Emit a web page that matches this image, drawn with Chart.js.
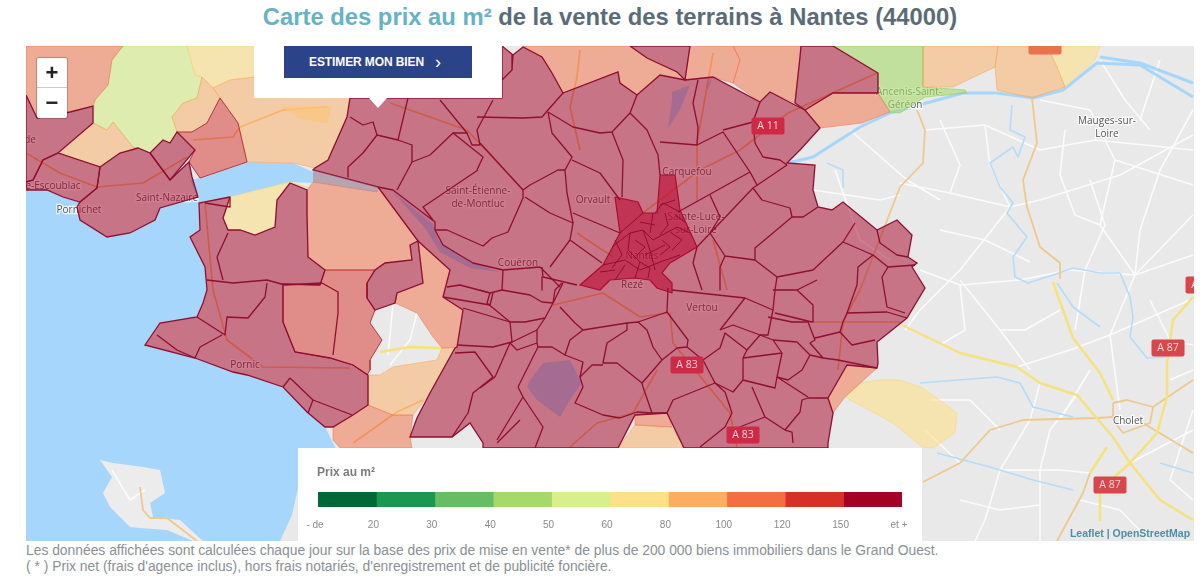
<!DOCTYPE html>
<html lang="fr">
<head>
<meta charset="utf-8">
<title>Carte des prix au m²</title>
<script src="https://cdn.jsdelivr.net/npm/chart.js@4"></script>
<style>
html,body{margin:0;padding:0;background:#fff;width:1200px;height:586px;overflow:hidden;font-family:"Liberation Sans",Arial,sans-serif}
#title{position:absolute;left:0;width:1220px;top:3px;text-align:center;font-size:23.8px;font-weight:bold;color:#5b6b78;white-space:nowrap}
#title span{color:#67b2c4}
#mapBox{position:absolute;left:26px;top:46px;width:1168px;height:495px}
#legendBox{position:absolute;left:298px;top:448px;width:624px;height:93px;background:#fff}
#legendTitle{position:absolute;left:19px;top:17px;font-size:12px;font-weight:bold;color:#7c7c7c}
#popup{position:absolute;left:254px;top:46px;width:248px;height:52px;background:#fff}
#popup:after{content:"";position:absolute;left:115px;top:52px;border-left:9px solid transparent;border-right:9px solid transparent;border-top:10px solid #fff}
#btn{position:absolute;left:30px;top:0;width:188px;height:32px;background:#2b4389;color:#fff;font-size:12px;font-weight:bold;line-height:32px;text-align:center;letter-spacing:-.1px;padding-right:6px;box-sizing:border-box}
#btn b{margin-left:11px;font-size:18px;font-weight:normal;vertical-align:top}
#zoom{position:absolute;left:37px;top:58px;width:30px;height:60px;background:#fff;border-radius:2px;box-shadow:0 0 0 1px rgba(0,0,0,.2);color:#222;font-size:22px;font-weight:bold;text-align:center}
#zoom div{height:29px;line-height:29px}
#zoom div+div{border-top:1px solid #ccc}
#attr{position:absolute;left:1068px;top:527px;width:124px;font-size:10.5px;font-weight:bold;color:#4c8fa6;text-align:center}
#notes{position:absolute;left:26px;top:542px;font-size:13.85px;line-height:16px;color:#8a8f94;white-space:nowrap}
</style>
</head>
<body>
<div id="title"><span>Carte des prix au m²</span> de la vente des terrains à Nantes (44000)</div>
<div id="mapBox"><canvas id="mapChart"></canvas></div>
<div id="popup"><div id="btn">ESTIMER MON BIEN<b>›</b></div></div>
<div id="zoom"><div>+</div><div>−</div></div>
<div id="attr">Leaflet | OpenStreetMap</div>
<div id="legendBox"><div id="legendTitle">Prix au m²</div><canvas id="legendChart"></canvas></div>
<div id="notes">Les données affichées sont calculées chaque jour sur la base des prix de mise en vente* de plus de 200 000 biens immobiliers dans le Grand Ouest.<br>( * ) Prix net (frais d'agence inclus), hors frais notariés, d'enregistrement et de publicité foncière.</div>

<script>
// legend
const legendTicks=['- de','20','30','40','50','60','80','100','120','150','et +'];
const legendColors=['#006837','#1a9850','#66bd63','#a6d96a','#d9ef8b','#fee08b','#fdae61','#f46d43','#d73027','#a50026'];

// map units
const seaShape=[[26,190],[47,190],[63,197],[80,202],[77,207],[80,220],[107,237],[130,233],[155,220],[160,208],[198,197],[190,180],[200,178],[247,162],[293,163],[313,172],[313,183],[290,182],[230,197],[199,203],[200,230],[190,237],[205,267],[207,290],[203,303],[197,317],[160,323],[145,345],[195,358],[233,372],[247,375],[283,387],[307,412],[325,427],[333,443],[337,450],[330,470],[298,488],[292,515],[280,541],[26,541]];
const islandShape=[[100,460],[113,463],[143,467],[160,470],[165,493],[150,503],[153,517],[180,520],[203,541],[193,541],[167,530],[140,528],[130,527],[110,507],[103,493],[112,477],[100,460]];
const lakeShape=[[530,380],[543,363],[570,360],[582,383],[570,400],[560,417],[537,400],[527,387]];
const lakesNorth=[[[672,92],[690,85],[680,110],[668,128],[672,100]],[[706,85],[712,78],[708,90]]];
const loireWest=[[393,192],[433,224],[438,240],[470,262],[500,272],[470,268],[440,252],[425,228]];

const riverLines=[
  [[1012,105],[1010,130],[1025,137],[1018,157],[1013,147],[990,163],[1000,187],[1013,203],[1007,213],[1027,237],[1013,257],[1015,277],[1028,283],[1053,275],[1073,268],[1100,273],[1120,273],[1130,297],[1133,317],[1130,337],[1147,358],[1167,357]],
  [[920,383],[997,377],[1020,383],[1033,407],[1073,417]],
  [[937,453],[990,467],[1033,480],[1073,490]],
  [[1057,283],[1073,307],[1100,327]],
  [[1160,463],[1193,473]],
  [[827,163],[843,170],[843,187]]
];
const loireLines=[
  [[788,163],[813,157],[860,127],[890,113],[963,93],[997,93],[1033,98],[1063,90],[1097,63],[1140,65],[1193,97]],
  [[1100,57],[1140,63],[1193,83]]
];
const whiteRoads=[
  [[925,130],[985,125],[1040,150],[1095,140],[1193,150]],
  [[900,183],[950,193],[1010,207],[1040,200],[1120,175],[1193,135]],
  [[1010,207],[960,270],[920,310],[905,330]],
  [[960,285],[1020,280],[1070,270],[1135,275],[1193,255]],
  [[1135,275],[1140,230],[1160,170],[1193,110]],
  [[1100,225],[1135,275],[1110,335],[1120,410]],
  [[960,280],[1000,330],[1030,370]],
  [[1017,367],[1070,350],[1110,335],[1190,300]],
  [[1090,180],[1105,225],[1085,270],[1075,330]],
  [[1040,100],[1090,110],[1115,160],[1100,225]],
  [[1040,383],[1030,420],[1000,470],[985,520],[975,541]],
  [[1077,395],[1050,430],[1040,470],[1040,541]],
  [[1130,463],[1193,430]],
  [[1170,380],[1193,370]],
  [[1000,470],[1060,470],[1090,473]],
  [[960,463],[925,430]],
  [[1060,420],[1090,370]],
  [[1100,60],[1125,100],[1150,130]],
  [[1160,60],[1140,120]],
  [[850,130],[907,180],[940,200]],
  [[813,190],[880,200],[900,195]],
  [[393,305],[388,355]],
  [[417,313],[410,340],[390,365]],
  [[112,470],[130,500],[145,490]],
  [[940,120],[960,165],[950,193]],
  [[985,125],[990,165],[1010,207]],
  [[1065,130],[1060,175],[1075,215],[1100,225]],
  [[1115,160],[1193,185]],
  [[1135,275],[1193,215]],
  [[940,230],[985,240],[1030,262]],
  [[920,270],[960,285],[965,330],[940,345]],
  [[1060,310],[1025,330],[1000,330]],
  [[1150,300],[1170,340],[1193,345]],
  [[930,400],[970,400],[1000,430]],
  [[1080,500],[1120,510],[1150,541]],
  [[1193,410],[1170,480],[1193,500]],
  [[835,170],[860,240],[890,260]],
  [[960,500],[1000,510],[1040,505]]
];
const yellowRoads=[
  [[902,325],[960,353],[1017,367],[1040,383],[1077,395],[1113,437],[1130,463],[1160,500],[1193,520]],
  [[1053,282],[1073,338],[1100,373],[1113,400]],
  [[1193,297],[1173,320],[1167,363],[1167,397],[1157,433],[1130,463],[1100,490],[1100,520]],
  [[1107,447],[1090,473]],
  [[380,352],[410,347],[442,348]]
];
const tanRoads=[
  [[1032,98],[1037,143],[1023,180],[1027,207],[1040,247],[1060,263],[1060,278]],
  [[917,110],[925,130],[923,163],[900,187],[860,290]],
  [[923,482],[960,463],[990,430],[1023,420],[1097,418],[1113,417]],
  [[1057,541],[1083,493],[1090,473]],
  [[1113,403],[1127,400],[1153,407],[1150,423],[1123,433],[1113,420],[1113,403]],
  [[1153,407],[1193,380]],
  [[1143,423],[1193,453]],
  [[140,487],[143,510],[150,518],[167,518],[197,541]]
];
const orangeRoads=[
  [[390,103],[467,130],[523,190]],
  [[240,127],[283,110],[327,107]],
  [[193,140],[233,137],[240,127]],
  [[26,153],[60,173],[97,187],[143,183],[187,157]],
  [[205,203],[213,290],[227,340],[263,367],[350,368]],
  [[353,443],[397,412],[423,400]],
  [[580,50],[577,77],[570,107],[580,150]],
  [[713,53],[697,143],[697,200]],
  [[788,113],[877,73]],
  [[713,240],[727,290]],
  [[577,233],[613,257]],
  [[813,322],[900,322]],
  [[843,322],[838,370]],
  [[860,290],[843,322]],
  [[670,313],[673,343],[730,413],[737,447]],
  [[570,447],[597,423],[633,413],[657,370]],
  [[553,305],[603,293],[640,317],[667,313]],
  [[640,215],[700,170],[740,150],[788,113]]
];

const zones150=[
  [[378,187],[313,170],[315,168],[328,160],[347,117],[350,98],[502,98],[502,46],[513,55],[523,47],[542,57],[552,73],[563,93],[618,72],[620,83],[637,95],[660,75],[685,80],[713,77],[760,102],[770,92],[795,105],[805,110],[820,128],[800,150],[787,163],[815,165],[813,190],[818,207],[832,210],[843,202],[877,230],[897,220],[912,235],[908,257],[917,263],[912,267],[925,288],[907,318],[877,342],[878,363],[877,368],[847,365],[828,398],[833,413],[828,443],[828,448],[684,448],[667,413],[635,415],[618,448],[483,448],[483,443],[470,423],[452,437],[410,437],[417,418],[430,393],[455,348],[457,347],[463,310],[443,297],[450,270],[418,241]],
  [[630,46],[647,58],[677,72],[685,80],[690,46]],
  [[801,46],[800,57],[795,103],[805,110],[833,93],[878,93],[878,73],[833,46]],
  [[26,95],[37,118],[70,112],[93,106],[93,123],[58,153],[43,160],[33,180],[26,182]],
  [[26,182],[33,180],[43,160],[58,153],[100,167],[97,188],[80,202],[63,197],[47,190],[26,190]],
  [[100,167],[120,153],[138,148],[150,153],[170,180],[189,162],[192,177],[198,197],[160,208],[155,220],[130,233],[107,237],[80,220],[77,207],[80,202],[97,188]],
  [[150,153],[163,140],[170,143],[177,132],[195,150],[170,180]],
  [[230,197],[223,218],[228,230],[240,230],[255,235],[275,227],[277,200],[290,183],[307,190],[307,213],[308,257],[325,270],[320,285],[283,284],[283,322],[295,352],[330,358],[353,365],[368,375],[368,405],[353,415],[333,427],[325,427],[307,412],[283,387],[247,375],[233,372],[195,358],[145,345],[160,323],[197,317],[203,303],[207,290],[205,267],[190,237],[200,230],[199,203]],
  [[367,283],[367,298],[375,310],[395,303],[397,293],[423,283],[418,241],[410,245],[412,260],[385,263],[375,270]]
];
const zones120=[
  [[220,98],[238,123],[247,162],[200,178],[189,162],[195,150],[177,132],[192,132],[207,123]],
  [[283,284],[320,285],[325,270],[375,270],[367,283],[367,298],[375,310],[370,323],[382,340],[370,360],[370,370],[367,375],[353,365],[330,358],[295,352],[283,322]]
];
const zones100=[
  [[26,46],[123,46],[112,60],[108,85],[95,100],[93,106],[70,112],[37,118],[26,95]],
  [[523,46],[630,46],[647,58],[677,72],[685,80],[660,75],[637,95],[620,83],[618,72],[563,93],[552,73],[542,57]],
  [[690,46],[733,46],[740,60],[733,83],[713,77],[685,80]],
  [[733,46],[801,46],[800,57],[795,103],[770,92],[760,102],[733,83],[740,60]],
  [[805,110],[833,93],[878,93],[890,112],[862,123],[820,128]],
  [[313,182],[377,192],[378,187],[418,241],[410,245],[412,260],[385,263],[375,270],[325,270],[308,257],[307,213],[307,190]],
  [[418,241],[450,270],[443,297],[463,310],[457,347],[442,348],[433,337],[417,313],[395,303],[397,293],[423,283]],
  [[333,427],[353,415],[368,405],[393,415],[413,415],[410,437],[412,448],[340,448],[333,440]],
  [[635,415],[667,413],[672,427],[635,425]],
  [[847,365],[877,368],[845,397],[833,413],[828,398]]
];
const zones80=[
  [[58,153],[93,123],[107,130],[113,122],[133,147],[138,148],[120,153],[100,167]],
  [[172,117],[183,103],[197,98],[202,77],[213,88],[220,98],[207,123],[192,132],[177,132]],
  [[230,80],[255,77],[255,46],[350,46],[350,98],[347,117],[328,160],[315,168],[293,163],[247,162],[238,123],[220,98],[213,88]],
  [[923,46],[998,46],[995,67],[953,87],[923,87]],
  [[998,46],[1047,46],[1057,67],[1065,87],[1032,98],[997,90],[995,67]],
  [[635,425],[672,427],[684,448],[618,448]],
  [[368,375],[368,405],[393,415],[413,415],[430,393],[455,348],[442,348],[437,360],[393,367],[380,375]]
];
const zones60=[
  [[187,46],[255,46],[255,77],[230,80],[213,88],[202,77],[195,75]],
  [[230,197],[290,182],[310,188],[290,183],[277,200],[275,227],[255,235],[240,230],[228,230],[223,218]],
  [[1047,46],[1100,46],[1095,60],[1065,87],[1057,67]],
  [[845,397],[860,383],[877,380],[900,380],[923,388],[957,413],[955,433],[933,448],[922,447],[893,423]],
  [[283,107],[330,107],[327,123],[300,118]]
];
const zones50=[
  [[123,46],[187,46],[195,75],[202,77],[197,98],[183,103],[172,117],[177,132],[170,143],[163,140],[150,153],[133,147],[113,122],[107,130],[93,123],[95,100],[108,85],[112,60]]
];
const zones40=[
  [[833,46],[923,46],[923,87],[965,90],[967,93],[925,97],[900,113],[890,112],[878,93],[878,73]]
];
const loireStrip=[[313,170],[378,187],[377,192],[313,182]];
const nantesCore=[[615,197],[638,202],[643,213],[657,213],[660,175],[675,175],[680,210],[697,247],[670,263],[662,273],[672,283],[672,293],[657,288],[650,280],[635,278],[610,280],[600,290],[580,285],[603,265],[620,233]];

const communeLines=[
  [[350,117],[363,125],[373,122],[377,135],[363,153],[348,167],[348,177]],
  [[377,135],[398,140],[412,145],[412,162],[397,190]],
  [[398,140],[408,98]],
  [[412,162],[430,155],[453,133],[467,133],[440,100]],
  [[467,133],[472,145],[480,145],[477,130],[493,100]],
  [[477,117],[523,118],[542,117],[548,110],[563,93]],
  [[513,55],[512,70],[502,80]],
  [[548,112],[552,133],[572,157],[565,170],[567,193],[573,223]],
  [[548,112],[573,127],[600,133],[612,132],[630,113],[637,95]],
  [[612,132],[623,160],[622,197]],
  [[630,113],[647,130],[658,155],[660,175]],
  [[698,80],[693,103],[698,127],[697,145]],
  [[660,142],[697,145],[723,132],[750,172],[678,212]],
  [[723,130],[753,122],[755,143],[763,157],[780,160],[787,165]],
  [[753,122],[760,102]],
  [[787,165],[753,188],[697,247],[693,263],[702,290]],
  [[750,172],[757,185]],
  [[710,195],[720,217],[710,233]],
  [[753,188],[762,200],[790,208],[792,217],[803,217],[818,207]],
  [[792,217],[755,248],[755,260],[725,256],[710,233]],
  [[725,256],[720,267],[720,290]],
  [[755,260],[777,277],[813,270],[843,242],[873,255],[888,267],[915,265]],
  [[843,242],[855,223]],
  [[877,230],[880,243],[897,255],[908,257]],
  [[873,255],[858,267],[857,285],[847,313]],
  [[888,267],[882,277],[887,307],[905,313]],
  [[777,277],[775,290],[773,310]],
  [[480,290],[490,293],[502,290],[530,295],[542,302],[553,303]],
  [[490,293],[487,303],[510,322],[525,322],[545,318],[553,303],[563,283]],
  [[560,307],[575,323],[583,330],[627,323],[627,330]],
  [[537,330],[545,318]],
  [[510,343],[537,330],[537,343],[517,350],[510,343]],
  [[537,343],[538,347],[552,347],[565,355],[570,340],[583,330]],
  [[627,323],[638,322],[647,330],[653,347],[662,360]],
  [[638,322],[667,312],[688,340],[687,347],[677,348],[662,360]],
  [[627,330],[607,343],[603,363],[617,363],[642,383],[662,360]],
  [[603,365],[592,365],[580,377],[583,387],[575,403],[603,415],[620,418],[637,412],[652,413],[643,387],[642,383]],
  [[652,413],[667,413],[673,400],[715,383],[725,392],[732,413],[725,427],[700,447]],
  [[715,383],[733,392],[743,380],[743,358],[747,350],[725,333],[720,348],[703,360],[687,347]],
  [[703,360],[715,383]],
  [[720,330],[733,325],[760,335],[747,350]],
  [[720,330],[745,298]],
  [[672,290],[745,298],[773,310],[768,335],[760,335]],
  [[668,288],[667,312]],
  [[775,313],[812,322],[813,305],[797,290],[773,290]],
  [[768,317],[792,322],[808,322]],
  [[773,340],[797,342],[810,355],[823,358],[838,360],[877,368]],
  [[808,322],[815,340],[810,343],[823,358]],
  [[815,338],[840,332],[852,345],[875,340]],
  [[840,332],[843,322],[847,313],[887,312],[907,318]],
  [[797,290],[817,280]],
  [[760,335],[773,340],[782,353],[777,377],[788,380],[802,370],[810,355]],
  [[743,358],[782,353]],
  [[743,380],[775,388],[777,377]],
  [[752,387],[765,417],[785,430],[800,412],[802,400],[808,398],[828,398]],
  [[777,377],[808,397]],
  [[765,417],[727,432]],
  [[785,430],[792,432],[793,443]],
  [[495,377],[510,343]],
  [[518,387],[538,347]],
  [[518,387],[523,397],[497,440]],
  [[523,397],[543,427],[535,448]],
  [[480,388],[495,377]],
  [[565,355],[583,362],[580,377]],
  [[197,317],[225,335],[227,317],[248,318],[265,297],[267,283]],
  [[157,335],[177,350],[195,358],[200,347],[222,335]],
  [[207,280],[233,283],[267,280],[285,285]],
  [[217,257],[223,280]],
  [[217,257],[228,233]],
  [[230,197],[230,207],[205,203]],
  [[285,285],[322,283],[338,292],[338,313],[333,355]],
  [[290,378],[283,387]],
  [[290,378],[313,400],[308,413]],
  [[313,400],[352,415]],
  [[447,287],[460,285],[490,293]],
  [[443,297],[490,305],[493,293]],
  [[463,308],[510,322]],
  [[455,353],[475,352],[493,377],[473,393],[468,413],[452,437]],
  [[457,345],[493,347],[512,342],[510,322]],
  [[497,443],[520,420]],
  [[480,143],[523,190]],
  [[435,230],[447,230],[483,246],[492,238],[508,232],[523,198],[523,190],[530,185],[558,170],[565,170]],
  [[525,197],[550,213],[573,223],[570,240],[550,267]],
  [[573,213],[620,233]],
  [[572,160],[600,173],[620,200]],
  [[570,240],[602,263]],
  [[540,267],[560,287]],
  [[503,270],[502,290]],
  [[542,267],[543,277],[577,285]],
  [[562,283],[555,290],[553,303]],
  [[542,277],[542,290]],
  [[433,220],[423,207],[478,170]],
  [[453,133],[483,157],[477,170]],
  [[378,187],[393,190],[435,222],[435,230],[443,245],[473,263],[503,270],[540,267]]
];
const nantesLines=[
  [[612,247],[630,233],[643,230],[653,240],[677,227],[690,233]],
  [[603,265],[625,260],[640,270],[660,262],[680,255]],
  [[630,233],[628,250],[640,262],[635,278]],
  [[643,230],[650,250],[655,270]],
  [[653,213],[650,233]],
  [[665,213],[668,225],[660,235]],
  [[660,205],[675,200]],
  [[670,232],[682,240],[672,250]],
  [[615,280],[625,265]],
  [[645,255],[665,245]],
  [[655,213],[663,203],[680,212]],
  [[620,233],[643,213]],
  [[615,240],[622,255],[612,268]],
  [[635,240],[645,247],[637,255]],
  [[655,225],[640,222]],
  [[662,240],[670,247],[660,255]],
  [[640,262],[650,268],[648,278]],
  [[600,272],[615,270]],
  [[675,215],[685,222]]
];

const placeNames=['e-Escoublac','de','Saint-Nazaire','Pornichet','Pornic','Saint-Étienne-','de-Montluc','Orvault','Carquefou','Sainte-Luce-','sur-Loire','Nantes','Couëron','Rezé','Vertou','Ancenis-Saint-','Géréon','Mauges-sur-','Loire','Cholet'];
const placeX=[53,30,167,79,245,478,478,593,687,696,696,642,518,632,702,909,905,1107,1107,1128];
const placeY=[186,140,198,210,365,191,204,200,172,217,230,256,263,285,308,92,105,121,134,421];

const shieldNames=['A 11','A 83','A 83','A 87','A 87','A 87',''];
const shieldX=[768,687,743,1168,1110,1202,1045];
const shieldY=[126,365,435,348,485,285,46];

const zoneFill={z150:'rgba(165,0,38,.5)',z120:'rgba(215,48,39,.5)',z100:'rgba(244,109,67,.5)',z80:'rgba(253,174,97,.5)',z60:'rgba(254,224,139,.6)',z50:'rgba(217,239,139,.6)',z40:'rgba(166,217,106,.6)'};
const WATER='#a6d6fc';

const mapData=[];
function toPoints(list){return list.map(p=>({x:p[0],y:p[1]}));}
function closed(list){return toPoints(list.concat([list[0]]));}
function addFill(list,color,border,width){
    mapData.push({data:closed(list),showLine:true,fill:'shape',backgroundColor:color,borderColor:border||color,borderWidth:width||0,pointRadius:0,tension:0,clip:false});
}
function addLine(list,color,width){
    mapData.push({data:toPoints(list),showLine:true,fill:false,borderColor:color,borderWidth:width,pointRadius:0,tension:0,borderJoinStyle:'round'});
}

addFill(seaShape,WATER);
addFill(islandShape,'#ececec');
addFill(lakeShape,WATER);
addFill(loireWest,WATER);
lakesNorth.forEach(e=>addFill(e,WATER));
whiteRoads.forEach(e=>addLine(e,'#fbfbfb',1.6));
riverLines.forEach(e=>addLine(e,'#b5dcf8',1.6));
loireLines.forEach(e=>addLine(e,WATER,3));
tanRoads.forEach(e=>addLine(e,'#eec98c',1.8));
yellowRoads.forEach(e=>addLine(e,'#f6e27a',2.4));
orangeRoads.forEach(e=>addLine(e,'#f5b66c',1.6));
const labelsIndex=mapData.length-1;//place names go right above the roads, under the tint

zones50.forEach(e=>addFill(e,zoneFill.z50,'rgba(190,220,110,.6)',1));
zones40.forEach(e=>addFill(e,zoneFill.z40,'rgba(150,205,90,.6)',1));
zones60.forEach(e=>addFill(e,zoneFill.z60,'rgba(250,215,130,.6)',1));
zones80.forEach(e=>addFill(e,zoneFill.z80,'rgba(250,170,100,.6)',1));
zones100.forEach(e=>addFill(e,zoneFill.z100,'rgba(240,120,80,.55)',1));
zones120.forEach(e=>addFill(e,zoneFill.z120,'#b83a3f',1));
zones150.forEach(e=>addFill(e,zoneFill.z150,'#8f0f30',1.3));
addFill(loireStrip,'rgba(140,110,130,.55)');
addFill(nantesCore,'rgba(190,10,50,.6)','#a80d32',1.2);
communeLines.forEach(e=>addLine(e,'#8f0f30',1.3));
nantesLines.forEach(e=>addLine(e,'#8f0f30',1));

// Chart.js paints the highest order first
mapData.forEach((e,i)=>{e.order=mapData.length-i;});

const mapOverlay={
    id:'mapOverlay',
    afterDatasetDraw(chart,args){//place names
        if(args.index!==labelsIndex)return;
        const {ctx,scales:{x,y}}=chart;
        ctx.save();
        ctx.beginPath();
        ctx.rect(chart.chartArea.left,chart.chartArea.top,chart.chartArea.width,chart.chartArea.height);
        ctx.clip();
        ctx.font='10px "Open Sans"';
        ctx.textAlign='center';
        ctx.textBaseline='middle';
        placeNames.forEach((e,i)=>{
            ctx.lineWidth=2.5;
            ctx.strokeStyle='rgba(255,255,255,.8)';
            ctx.strokeText(e,x.getPixelForValue(placeX[i]),y.getPixelForValue(placeY[i]));
            ctx.fillStyle='#555';
            ctx.fillText(e,x.getPixelForValue(placeX[i]),y.getPixelForValue(placeY[i]));
        });
        ctx.restore();
    },
    afterDatasetsDraw(chart){//motorway shields
        const {ctx,scales:{x,y}}=chart;
        ctx.save();
        ctx.beginPath();
        ctx.rect(chart.chartArea.left,chart.chartArea.top,chart.chartArea.width,chart.chartArea.height);
        ctx.clip();
        ctx.font='10.5px "Open Sans"';
        ctx.textAlign='center';
        ctx.textBaseline='middle';
        shieldNames.forEach((e,i)=>{
            const px=x.getPixelForValue(shieldX[i]),py=y.getPixelForValue(shieldY[i]);
            ctx.fillStyle=i===6?'#e8744f':(i<3?'#cf2a45':'#d8474c');
            ctx.beginPath();
            ctx.roundRect(px-16.5,py-8.5,33,17,2);
            ctx.fill();
            ctx.fillStyle='rgba(255,255,255,.8)';
            ctx.fillText(e,px,py);
        });
        ctx.restore();
    }
};

new Chart(document.getElementById('mapChart'),{
    type:'scatter',
    data:{datasets:mapData},
    options:{
        responsive:true,
        maintainAspectRatio:false,
        animation:false,
        events:[],
        layout:{padding:0},
        plugins:{legend:{display:false},tooltip:{enabled:false}},
        scales:{
            x:{type:'linear',display:false,min:26,max:1194},
            y:{type:'linear',display:false,min:46,max:541,reverse:true}
        }
    },
    plugins:[mapOverlay,{
        id:'landColor',
        beforeDraw(chart){
            chart.ctx.save();
            chart.ctx.fillStyle='#e9e9e9';
            chart.ctx.fillRect(0,0,chart.width,chart.height);
            chart.ctx.restore();
        }
    }]
});

new Chart(document.getElementById('legendChart'),{
    type:'bar',
    data:{
        labels:[''],
        datasets:legendColors.map(c=>({data:[1],backgroundColor:c,borderWidth:0,barPercentage:1,categoryPercentage:1}))
    },
    options:{
        indexAxis:'y',
        responsive:true,
        maintainAspectRatio:false,
        animation:false,
        events:[],
        layout:{padding:{left:20,right:20,top:44,bottom:0}},
        plugins:{legend:{display:false},tooltip:{enabled:false}},
        scales:{
            x:{
                stacked:true,min:0,max:10,
                grid:{display:false},border:{display:false},
                afterFit(scale){scale.height=34;},
                ticks:{stepSize:1,autoSkip:false,maxRotation:0,labelOffset:-3,padding:4,color:'#8a8a8a',font:{family:'"Liberation Sans"',size:10},callback:(v)=>legendTicks[v]}
            },
            y:{stacked:true,display:false}
        }
    }
});
</script>
</body>
</html>
